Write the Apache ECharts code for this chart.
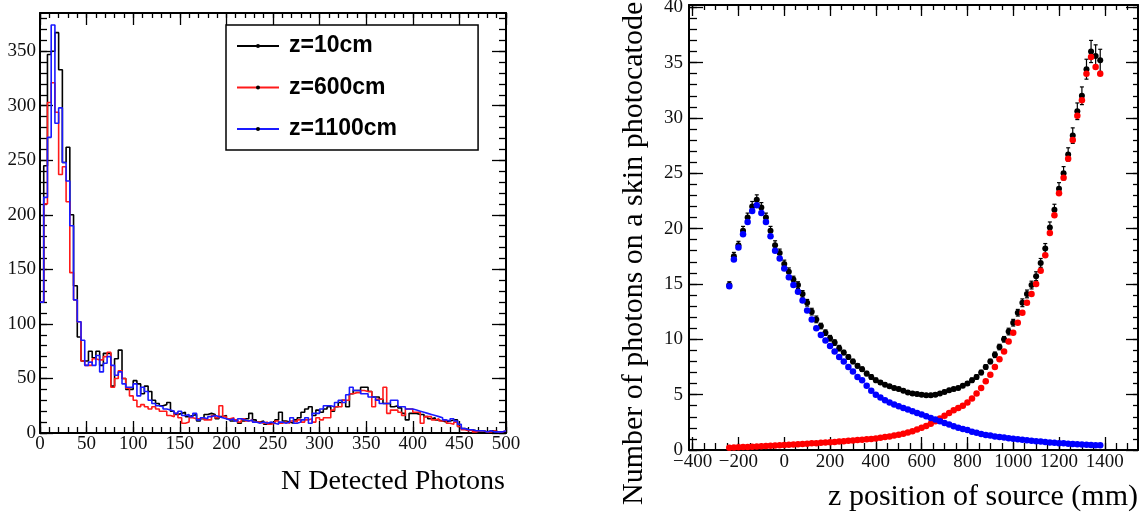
<!DOCTYPE html>
<html>
<head>
<meta charset="utf-8">
<script src="https://cdn.jsdelivr.net/npm/echarts@6.0.0/dist/echarts.min.js"></script>
<style>
html,body{margin:0;padding:0;background:#fff;}
#chart{width:1142px;height:516px;}
</style>
</head>
<body>
<div id="chart"></div>
<script>
// ---------- Left panel: histograms of N detected photons (bin width 4) ----------
const binWidth = 4;
const seriesNames = ['z=10cm', 'z=600cm', 'z=1100cm'];
const histZ10 = [
  120, 245, 347, 350, 367, 333, 248, 262, 200, 135,
  88, 66, 66, 75, 69, 75, 62, 73, 73, 43,
  68, 76, 50, 40, 40, 48, 45, 36, 43, 38,
  30, 27, 25, 26, 28, 20, 17, 18, 19, 15,
  16, 17, 11, 13, 17, 18, 17, 13, 15, 16,
  13, 11, 12, 9, 11, 13, 18, 12, 10, 11,
  8, 9, 10, 12, 19, 11, 10, 9, 12, 14,
  19, 22, 24, 16, 21, 19, 22, 24, 20, 24,
  28, 30, 24, 36, 39, 39, 42, 42, 38, 33,
  33, 31, 27, 27, 24, 25, 23, 18, 12, 18,
  18, 17, 17, 15, 13, 14, 12, 11, 10, 11,
  12, 12, 6, 4, 3, 3, 2, 2, 2, 1,
  2, 2, 1, 1, 1
];
const histZ600 = [
  120, 210, 303, 321, 294, 237, 244, 212, 147, 122,
  102, 66, 62, 62, 68, 67, 67, 70, 74, 42,
  50, 57, 50, 41, 34, 30, 24, 26, 24, 22,
  24, 22, 20, 20, 16, 15, 18, 14, 9, 10,
  14, 13, 13, 14, 12, 12, 16, 14, 25, 15,
  13, 14, 12, 10, 13, 11, 12, 10, 10, 9,
  10, 8, 9, 11, 9, 10, 9, 11, 10, 12,
  10, 12, 13, 10, 14, 12, 14, 14, 21, 24,
  24, 30, 30, 36, 37, 37, 39, 38, 38, 24,
  31, 31, 42, 18, 21, 21, 19, 16, 22, 22,
  19, 19, 9, 15, 15, 12, 13, 11, 12, 9,
  8, 10, 6, 3, 2, 3, 1, 2, 2, 1,
  1, 2, 1, 1, 2
];
const histZ1100 = [
  120, 216, 271, 374, 284, 298, 248, 231, 190, 122,
  102, 85, 62, 65, 62, 71, 56, 64, 70, 62,
  53, 56, 45, 42, 42, 45, 34, 42, 38, 30,
  27, 25, 24, 22, 21, 20, 18, 20, 16, 17,
  15, 18, 12, 14, 13, 15, 16, 15, 14, 13,
  12, 13, 11, 13, 12, 11, 12, 10, 9, 10,
  9, 10, 9, 8, 10, 9, 10, 14, 9, 10,
  12, 14, 9, 18, 18, 22, 25, 25, 24, 28,
  30, 28, 35, 42, 39, 39, 36, 36, 33, 33,
  30, 27, 27, 27, 30, 30, 24, 24, 22, 22,
  21, 20, 19, 18, 17, 16, 15, 14, 12, 11,
  13, 11, 8, 4, 3, 3, 2, 2, 2, 1,
  2, 1, 1, 1, 2
];
const histXTicks = [0, 50, 100, 150, 200, 250, 300, 350, 400, 450, 500];
const histYTicks = [0, 50, 100, 150, 200, 250, 300, 350];
const histXTitle = 'N Detected Photons';

// ---------- Right panel: photons on a skin photocathode vs z ----------
const zPos = [
  -240, -220, -200, -180, -160, -140, -120, -100, -80, -60,
  -40, -20, 0, 20, 40, 60, 80, 100, 120, 140,
  160, 180, 200, 220, 240, 260, 280, 300, 320, 340,
  360, 380, 400, 420, 440, 460, 480, 500, 520, 540,
  560, 580, 600, 620, 640, 660, 680, 700, 720, 740,
  760, 780, 800, 820, 840, 860, 880, 900, 920, 940,
  960, 980, 1000, 1020, 1040, 1060, 1080, 1100, 1120, 1140,
  1160, 1180, 1200, 1220, 1240, 1260, 1280, 1300, 1320, 1340,
  1360, 1380
];
const skinTotal = [
  14.9, 17.5, 18.5, 19.8, 21.0, 22.0, 22.6, 21.9, 21.0, 19.8,
  18.5, 17.8, 16.8, 16.1, 15.4, 14.9, 14.1, 13.3, 12.5, 11.8,
  11.2, 10.6, 10.1, 9.7, 9.2, 8.8, 8.4, 8.0, 7.6, 7.3,
  6.9, 6.6, 6.3, 6.1, 5.9, 5.75, 5.6, 5.5, 5.35, 5.2,
  5.1, 5.05, 5.0, 4.95, 4.95, 5.0, 5.1, 5.25, 5.4, 5.5,
  5.6, 5.8, 6.0, 6.3, 6.6, 7.0, 7.5, 8.0, 8.6, 9.3,
  10.0, 10.7, 11.5, 12.4, 13.3, 14.1, 14.9, 15.7, 16.9, 18.2,
  20.1, 21.7, 23.6, 25.0, 26.7, 28.4, 30.6, 32.0, 34.4, 36.0,
  35.6, 35.2
];
const skinTotalErr = [
  0.3, 0.35, 0.35, 0.4, 0.4, 0.45, 0.45, 0.45, 0.4, 0.4,
  0.4, 0.35, 0.35, 0.35, 0.3, 0.3, 0.3, 0.3, 0.3, 0.3,
  0.25, 0.25, 0.25, 0.25, 0.25, 0.2, 0.2, 0.2, 0.2, 0.2,
  0.2, 0.2, 0.2, 0.15, 0.15, 0.15, 0.15, 0.15, 0.15, 0.15,
  0.15, 0.15, 0.15, 0.15, 0.15, 0.15, 0.15, 0.15, 0.15, 0.15,
  0.15, 0.15, 0.15, 0.2, 0.2, 0.2, 0.2, 0.2, 0.25, 0.25,
  0.25, 0.3, 0.3, 0.3, 0.35, 0.35, 0.35, 0.4, 0.4, 0.45,
  0.5, 0.5, 0.55, 0.6, 0.6, 0.7, 0.75, 0.8, 0.9, 1.0,
  1.0, 1.0
];
const skinFar = [
  0.2, 0.22, 0.24, 0.26, 0.28, 0.3, 0.32, 0.34, 0.36, 0.38,
  0.4, 0.42, 0.45, 0.48, 0.5, 0.52, 0.55, 0.57, 0.6, 0.62,
  0.65, 0.68, 0.7, 0.73, 0.76, 0.8, 0.83, 0.86, 0.9, 0.93,
  0.97, 1.0, 1.05, 1.1, 1.17, 1.23, 1.3, 1.38, 1.47, 1.57,
  1.7, 1.85, 2.0, 2.17, 2.37, 2.6, 2.85, 3.1, 3.35, 3.6,
  3.8, 4.0, 4.3, 4.65, 5.1, 5.6, 6.2, 6.8, 7.5, 8.2,
  8.9, 9.8, 10.6, 11.5, 12.4, 13.3, 14.1, 15.0, 16.2, 17.6,
  19.6, 21.2, 23.2, 24.6, 26.3, 28.0, 30.2, 31.6, 34.0, 35.5,
  34.6, 34.0
];
const skinNear = [
  14.8, 17.2, 18.3, 19.5, 20.6, 21.6, 22.1, 21.4, 20.6, 19.3,
  18.0, 17.3, 16.4, 15.6, 14.9, 14.3, 13.5, 12.6, 11.8, 11.0,
  10.4, 9.9, 9.4, 8.9, 8.4, 8.0, 7.5, 7.1, 6.6, 6.3,
  5.8, 5.35, 5.0, 4.75, 4.5, 4.3, 4.1, 3.95, 3.8, 3.65,
  3.5, 3.35, 3.2, 3.05, 2.9, 2.75, 2.6, 2.45, 2.3, 2.15,
  2.0, 1.9, 1.8, 1.65, 1.55, 1.45, 1.35, 1.3, 1.22, 1.17,
  1.12, 1.07, 1.02, 0.97, 0.92, 0.87, 0.83, 0.79, 0.76, 0.72,
  0.68, 0.65, 0.62, 0.6, 0.57, 0.55, 0.52, 0.5, 0.48, 0.46,
  0.44, 0.43
];
const zTicks = [-400, -200, 0, 200, 400, 600, 800, 1000, 1200, 1400];
const nTicks = [0, 5, 10, 15, 20, 25, 30, 35, 40];
const skinXTitle = 'z position of source (mm)';
const skinYTitle = 'Number of photons on a skin photocatode';

// ---------- helpers ----------
const SERIF = "'Liberation Serif','DejaVu Serif','Times New Roman',serif";
function tickRange(a, b, s) {
  const r = [];
  for (let v = a; v <= b + 1e-9; v += s) r.push(Math.round(v * 1000) / 1000);
  return r;
}
function mkAxis(o) {
  return {
    type: 'value', gridIndex: o.grid, position: o.pos, min: o.min, max: o.max,
    axisLine: { show: !!o.line, onZero: false, lineStyle: { color: '#000', width: 2 } },
    axisTick: { show: true, inside: true, length: o.len, customValues: o.ticks,
      lineStyle: { color: '#000', width: 1.3 } },
    axisLabel: o.labels ? {
      show: true, customValues: o.labels, margin: o.margin, color: '#111',
      fontFamily: SERIF, fontSize: 19, formatter: o.fmt
    } : { show: false },
    splitLine: { show: false },
    minorTick: { show: false }
  };
}
function stepData(vals) {
  const d = vals.map((v, i) => [i * binWidth, v]);
  d.push([vals.length * binWidth, vals[vals.length - 1]]);
  return d;
}
const minusFmt = v => (v < 0 ? '\u2212' + Math.abs(v) : String(v));

const hMinX = tickRange(0, 500, 10), hMinY = tickRange(0, 380, 10);
const zMin = tickRange(-400, 1500, 50), nMin = tickRange(0, 40, 1);

const H = { xmin: 0, xmax: 500, ymin: 0, ymax: 385 };
const S = { xmin: -416, xmax: 1545, ymin: 0, ymax: 40.2 };

const xAxes = [
  mkAxis({ grid: 0, pos: 'bottom', min: H.xmin, max: H.xmax, line: true, len: 12, ticks: histXTicks, labels: histXTicks, margin: 2 }),
  mkAxis({ grid: 0, pos: 'bottom', min: H.xmin, max: H.xmax, len: 6, ticks: hMinX }),
  mkAxis({ grid: 0, pos: 'top', min: H.xmin, max: H.xmax, line: true, len: 12, ticks: histXTicks }),
  mkAxis({ grid: 0, pos: 'top', min: H.xmin, max: H.xmax, len: 5, ticks: hMinX }),
  mkAxis({ grid: 1, pos: 'bottom', min: S.xmin, max: S.xmax, line: true, len: 13, ticks: zTicks, labels: zTicks, margin: 3, fmt: minusFmt }),
  mkAxis({ grid: 1, pos: 'bottom', min: S.xmin, max: S.xmax, len: 7, ticks: zMin }),
  mkAxis({ grid: 1, pos: 'top', min: S.xmin, max: S.xmax, line: true, len: 11, ticks: zTicks }),
  mkAxis({ grid: 1, pos: 'top', min: S.xmin, max: S.xmax, len: 5, ticks: zMin })
];
const yAxes = [
  mkAxis({ grid: 0, pos: 'left', min: H.ymin, max: H.ymax, line: true, len: 13, ticks: histYTicks, labels: histYTicks, margin: 4 }),
  mkAxis({ grid: 0, pos: 'left', min: H.ymin, max: H.ymax, len: 7, ticks: hMinY }),
  mkAxis({ grid: 0, pos: 'right', min: H.ymin, max: H.ymax, line: true, len: 14, ticks: histYTicks }),
  mkAxis({ grid: 0, pos: 'right', min: H.ymin, max: H.ymax, len: 7, ticks: hMinY }),
  mkAxis({ grid: 1, pos: 'left', min: S.ymin, max: S.ymax, line: true, len: 14, ticks: nTicks, labels: nTicks, margin: 6 }),
  mkAxis({ grid: 1, pos: 'left', min: S.ymin, max: S.ymax, len: 8, ticks: nMin }),
  mkAxis({ grid: 1, pos: 'right', min: S.ymin, max: S.ymax, line: true, len: 12, ticks: nTicks }),
  mkAxis({ grid: 1, pos: 'right', min: S.ymin, max: S.ymax, len: 5, ticks: nMin })
];

const histColors = ['#000000', '#ff1a1a', '#1a1aff'];
const histData = [histZ10, histZ600, histZ1100];

const series = histData.map((vals, k) => ({
  name: seriesNames[k], type: 'line', step: 'end', symbol: 'none',
  xAxisIndex: 0, yAxisIndex: 0, data: stepData(vals),
  lineStyle: { color: histColors[k], width: 1.6 },
  itemStyle: { color: '#000' },
  z: 2 + k, silent: true
}));

series.push({
  type: 'custom', xAxisIndex: 4, yAxisIndex: 4, silent: true, z: 2,
  data: zPos.map((z, i) => [z, skinTotal[i] - skinTotalErr[i], skinTotal[i] + skinTotalErr[i]]),
  encode: { x: 0, y: [1, 2] },
  renderItem: function (params, api) {
    const x = api.value(0);
    const a = api.coord([x, api.value(1)]);
    const b = api.coord([x, api.value(2)]);
    const st = { stroke: '#000', lineWidth: 1.2 };
    return { type: 'group', children: [
      { type: 'line', shape: { x1: a[0], y1: a[1], x2: b[0], y2: b[1] }, style: st },
      { type: 'line', shape: { x1: a[0] - 2, y1: a[1], x2: a[0] + 2, y2: a[1] }, style: st },
      { type: 'line', shape: { x1: b[0] - 2, y1: b[1], x2: b[0] + 2, y2: b[1] }, style: st }
    ] };
  }
});
[[skinTotal, '#000000', 6, 3], [skinFar, '#ff0000', 6.5, 4], [skinNear, '#0000ff', 6.5, 5]].forEach(([vals, col, sz, zz]) => {
  series.push({
    type: 'scatter', xAxisIndex: 4, yAxisIndex: 4, symbol: 'circle', symbolSize: sz,
    data: zPos.map((z, i) => [z, vals[i]]), itemStyle: { color: col, opacity: 1 },
    z: zz, silent: true
  });
});

const chart = echarts.init(document.getElementById('chart'), null, { renderer: 'canvas' });
chart.setOption({
  animation: false,
  backgroundColor: '#fff',
  grid: [
    { left: 40, right: 636, top: 13, bottom: 83, outerBoundsMode: 'none', containLabel: false },
    { left: 689, right: 4, top: 5, bottom: 66, outerBoundsMode: 'none', containLabel: false }
  ],
  legend: {
    show: true, orient: 'vertical', left: 226, top: 25,
    data: seriesNames,
    itemWidth: 42, itemHeight: 5, itemGap: 18.5,
    padding: [9.5, 81, 9.5, 10],
    borderColor: '#000', borderWidth: 1.5, borderRadius: 0, backgroundColor: '#fff',
    selectedMode: false,
    textStyle: { fontFamily: "'Liberation Sans', Arial, sans-serif", fontWeight: 'bold', fontSize: 23,
      lineHeight: 23, color: '#000', padding: [0, 0, 0, 5] }
  },
  graphic: [
    { type: 'text', x: 505, y: 482, silent: true,
      style: { text: histXTitle, font: '28px ' + SERIF, fill: '#000', align: 'right', verticalAlign: 'middle' } },
    { type: 'text', x: 1138, y: 497, silent: true,
      style: { text: skinXTitle, font: '30px ' + SERIF, fill: '#000', align: 'right', verticalAlign: 'middle' } },
    { type: 'text', x: 634, y: 505, rotation: Math.PI / 2, silent: true,
      style: { text: skinYTitle, font: '30px ' + SERIF, fill: '#000', align: 'left', verticalAlign: 'middle' } }
  ],
  xAxis: xAxes,
  yAxis: yAxes,
  series: series
});
</script>
</body>
</html>
